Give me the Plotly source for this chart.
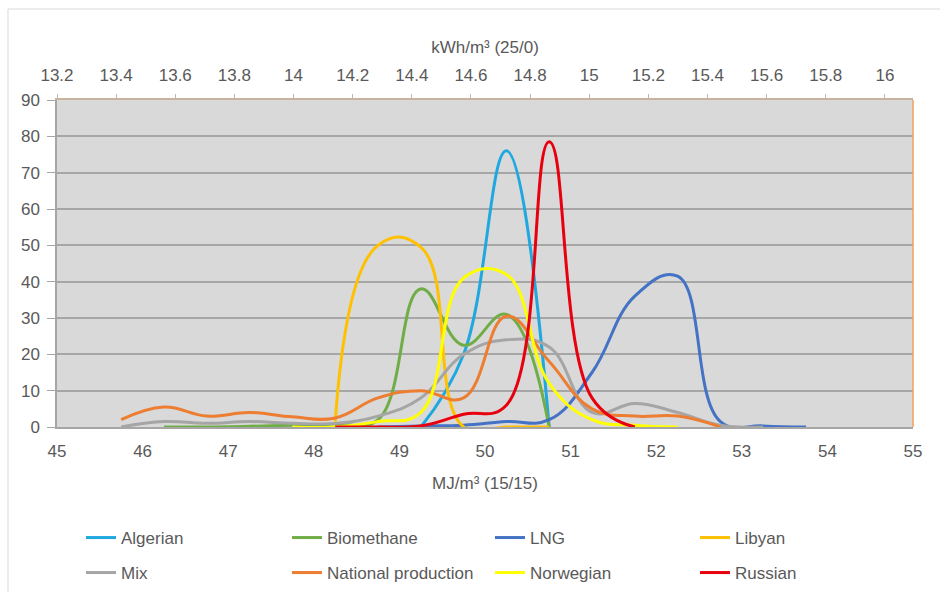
import plotly.graph_objects as go

# Bin centres (MJ/m3 15/15)
mj = [45.75, 46.25, 46.75, 47.25, 47.75, 48.25, 48.75, 49.25, 49.75,
      50.25, 50.75, 51.25, 51.75, 52.25, 52.75, 53.25, 53.75]
N = None
algerian = [N, N, N, N, N, N, N, 0, 20, 76, 0, N, N, N, N, N, N]
biomethane = [N, 0, 0, 0.2, 0.5, 0.8, 2, 38, 22.5, 31, 0, N, N, N, N, N, N]
lng = [N, N, N, N, N, N, 0, 0.3, 0.5, 1.5, 2, 15, 36, 41.5, 1.5, 0.3, 0]
libyan = [N, N, N, N, N, 1.5, 50, 49.5, 0, 0, 0, N, N, N, N, N, N]
mix = [0, 1.5, 1, 1.5, 1, 1, 3, 8, 20, 24, 22, 4, 6.5, 4, 0.5, 0, N]
national = [2, 5.5, 3, 4, 2.8, 2.5, 8, 10, 8, 30.5, 18, 5, 3, 3, 0, N, N]
norwegian = [N, N, N, N, 0, 0, 1.5, 4, 41, 42, 12, 2, 0.5, 0, N, N, N]
russian = [N, N, N, N, N, 0, 0, 0.3, 3.5, 6, 78.5, 8, 0, N, N, N, N]

names = ["Algerian", "Biomethane", "LNG", "Libyan", "Mix",
         "National production", "Norwegian", "Russian"]
colors = ["#1FA8E0", "#70AD47", "#4472C4", "#FFC000", "#A5A5A5",
          "#ED7D31", "#FFFF00", "#E8000E"]
series = [algerian, biomethane, lng, libyan, mix, national, norwegian, russian]

# Top axis (kWh/m3 25/0) range and tick labels
kwh_range = [13.2, 16.095]
kwh_ticks = [13.2, 13.4, 13.6, 13.8, 14, 14.2, 14.4, 14.6, 14.8, 15,
             15.2, 15.4, 15.6, 15.8, 16]
kwh_labels = ["13.2", "13.4", "13.6", "13.8", "14", "14.2", "14.4", "14.6",
              "14.8", "15", "15.2", "15.4", "15.6", "15.8", "16"]
mj_ticks = [45, 46, 47, 48, 49, 50, 51, 52, 53, 54, 55]
y_ticks = [0, 10, 20, 30, 40, 50, 60, 70, 80, 90]

FONT = "Liberation Sans, Arial, sans-serif"
TXT = "#595959"

W, H = 940, 592
L, PW, T, PH = 57, 856, 100, 327
col_px = [81, 287, 490, 695]
row_px = [538, 573]

fig = go.Figure()
legends = {}
for i, (nm, c, s) in enumerate(zip(names, colors, series)):
    key = "legend" if i == 0 else f"legend{i + 1}"
    fig.add_trace(go.Scatter(
        x=mj, y=s, name=nm, mode="lines",
        line=dict(color=c, width=3, shape="spline",
                  smoothing=1.3 if nm == "Libyan" else 1.2),
        legend=key, hoverinfo="x+y+name",
    ))
    legends[key] = dict(
        orientation="v", xanchor="left", yanchor="middle",
        xref="paper", yref="container",
        x=(col_px[i % 4] - L) / PW, y=1 - row_px[i // 4] / H,
        bgcolor="rgba(0,0,0,0)", tracegroupgap=0,
        font=dict(family=FONT, size=17, color=TXT), itemwidth=30,
    )

# carrier for the secondary (top) energy axis, no visible marks
fig.add_trace(go.Scatter(
    x=kwh_range, y=[None, None], xaxis="x2", yaxis="y", mode="lines",
    showlegend=False, hoverinfo="skip",
))

fig.update_layout(
    width=W, height=H,
    margin=dict(l=57, r=27, t=100, b=165),
    paper_bgcolor="white",
    plot_bgcolor="#D9D9D9",
    font=dict(family=FONT, size=17, color=TXT),
    showlegend=True,
    xaxis=dict(
        range=[45, 55], tickvals=mj_ticks, showgrid=False, zeroline=False,
        showline=True, linecolor="#A6A6A6", linewidth=1.5,
        ticks="", ticklabelstandoff=8,
        title=dict(text="MJ/m³ (15/15)", font=dict(size=17, color=TXT), standoff=17),
    ),
    xaxis2=dict(
        range=kwh_range, overlaying="x", side="top", anchor="y",
        tickvals=kwh_ticks, ticktext=kwh_labels, showgrid=False, zeroline=False,
        showline=True, linecolor="#C8B49E", linewidth=1.5,
        ticks="outside", ticklen=4, tickcolor="#C8B49E", ticklabelstandoff=6,
        title=dict(text="kWh/m³ (25/0)", font=dict(size=17, color=TXT), standoff=9),
    ),
    yaxis=dict(
        range=[0, 90], tickvals=y_ticks, showgrid=True, gridcolor="#A6A6A6",
        gridwidth=2, zeroline=False, showline=True, linecolor="#A6A6A6",
        linewidth=1.5, ticks="outside", ticklen=8, tickcolor="#A6A6A6",
        ticklabelstandoff=4,
    ),
    shapes=[
        dict(type="line", xref="x domain", yref="y domain", x0=1, x1=1, y0=0, y1=1,
             line=dict(color="#F0A060", width=1.5)),
        dict(type="rect", xref="paper", yref="paper",
             x0=(8 - L) / PW, x1=(960 - L) / PW,
             y0=(T + PH - 620) / PH, y1=(T + PH - 9) / PH,
             line=dict(color="#D9D9D9", width=1), fillcolor="rgba(0,0,0,0)",
             layer="below"),
    ],
    **legends,
)

fig.write_html("out.html", config={"displayModeBar": False},
               post_script="document.body.style.margin='0';document.body.style.overflow='hidden';")
